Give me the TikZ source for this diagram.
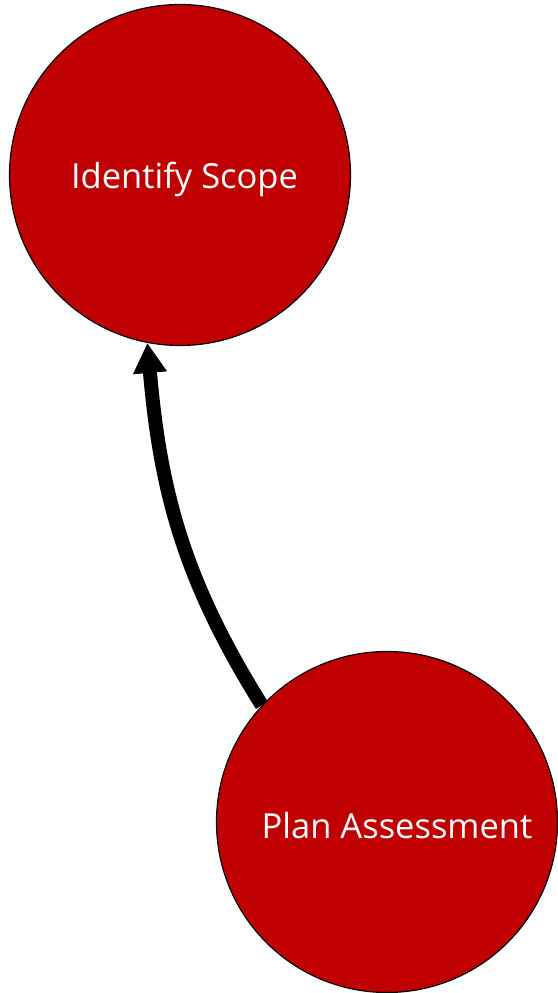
\documentclass[tikz,border=0pt]{standalone}
\usepackage{fontspec}
\setmainfont{Open Sans}
\usetikzlibrary{arrows.meta}
\definecolor{stepred}{HTML}{C00000}
\newcommand{\lowtext}[1]{\raisebox{0pt}[\dimexpr\height+8pt\relax]{#1}}

\begin{document}
\begin{tikzpicture}
    [x=1pt, y=1pt,
    stage/.style={
        circle,
        draw=black,
        line width=1.2pt,
        fill=stepred,
        text=white,
        minimum size=341pt,
        inner sep=0pt,
        font=\fontsize{34.5}{40}\selectfont
    },
    flow/.style={
        draw, line width=14pt, -{Triangle[width=32pt,length=30pt]}
    }
    ]
    \useasboundingbox (0,0) rectangle (557,993);

    % Phasen
    \node[stage] (scope) at (180,818) {\hspace{9pt}\lowtext{Identify Scope}};
    \node[stage] (plan) at (387,171) {\hspace{20pt}\lowtext{Plan Assessment}};

    % Verbindung
    \path [flow] (plan.137) to[out=122, in=-85] (scope.-101);
\end{tikzpicture}
\end{document}
